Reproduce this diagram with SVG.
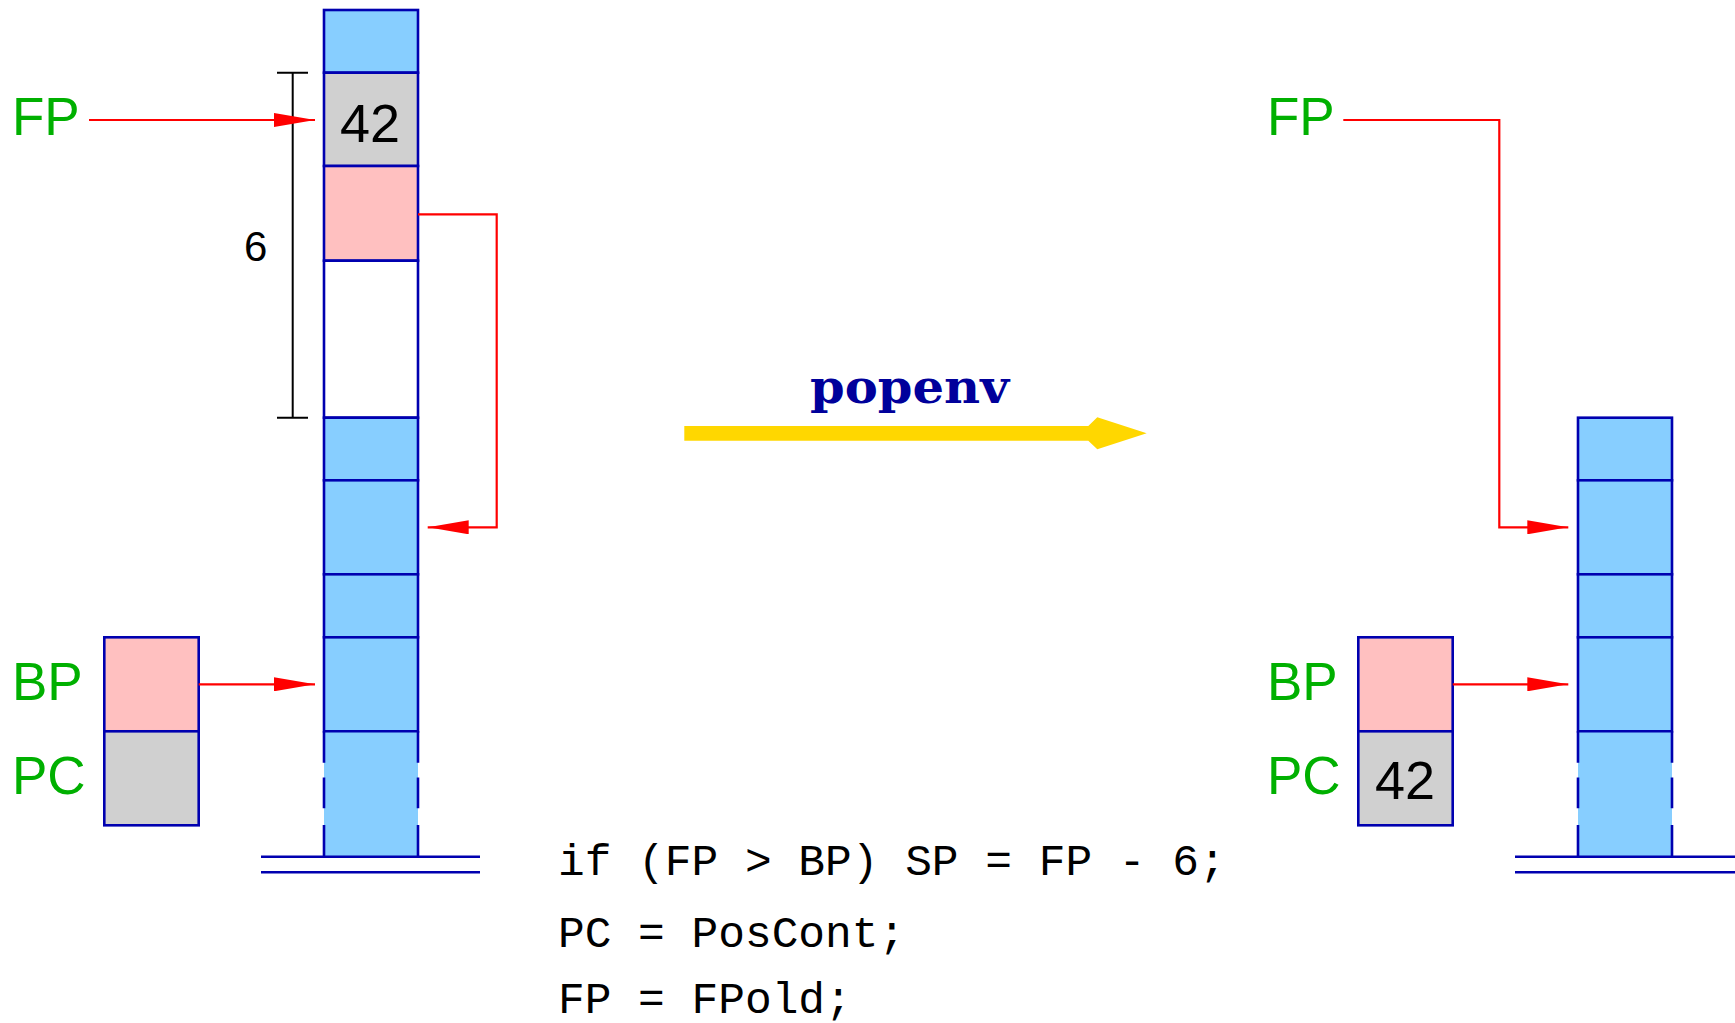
<svg xmlns="http://www.w3.org/2000/svg" width="1735" height="1023" viewBox="0 0 1735 1023">
<defs>
<style>
.cell{stroke:#0000B0;stroke-width:2.6}
.blue{fill:#87CEFF}
.gray{fill:#D0D0D0}
.pink{fill:#FFC0C0}
.white{fill:#FFFFFF}
.side{stroke:#0000B0;stroke-width:2.6;fill:none}
.ground{stroke:#0000B0;stroke-width:2.6;fill:none}
.reg{font-family:"Liberation Sans",Arial,sans-serif;font-size:53px;fill:#00B000}
.num{font-family:"Liberation Sans",Arial,sans-serif;font-size:54px;fill:#000;text-anchor:middle}
.code{font-family:"Liberation Mono","DejaVu Sans Mono",monospace;font-size:44.5px;fill:#000}
.ptr{stroke:#FF0000;stroke-width:2.2;fill:none}
</style>
<marker id="ah" markerWidth="41" markerHeight="14" refX="41" refY="7" orient="auto" markerUnits="userSpaceOnUse">
<path d="M0,0 L41,7 L0,14 z" fill="#FF0000"/>
</marker>
</defs>
<rect width="1735" height="1023" fill="#FFFFFF"/>

<g id="left-stack">
<rect class="cell blue" x="324" y="10" width="94" height="62.7"/>
<rect class="cell gray" x="324" y="72.7" width="94" height="93.3"/>
<text class="num" x="370" y="141.7">42</text>
<rect class="cell pink" x="324" y="166" width="94" height="94.7"/>
<rect class="cell white" x="324" y="260.7" width="94" height="157"/>
<rect class="cell blue" x="324" y="417.7" width="94" height="62.6"/>
<rect class="cell blue" x="324" y="480.3" width="94" height="94"/>
<rect class="cell blue" x="324" y="574.3" width="94" height="63"/>
<rect class="cell blue" x="324" y="637.3" width="94" height="94"/>
<rect class="blue" x="324" y="731.3" width="94" height="125.4"/>
<path class="side" d="M324,731.3 H418 M324,731.3 V762.7 M324,777.5 V808.3 M324,825 V856.7 M418,731.3 V762.7 M418,777.5 V808.3 M418,825 V856.7"/>
<path class="ground" d="M261,856.7 H480 M261,872.3 H480"/>
</g>

<g id="left-bracket">
<path d="M292.7,72.7 V417.7 M277,72.7 H308 M277,417.7 H308" stroke="#000" stroke-width="2" fill="none"/>
<text x="244" y="261" font-family="Liberation Sans, Arial, sans-serif" font-size="42" fill="#000">6</text>
</g>

<g id="left-registers">
<text class="reg" x="12" y="135">FP</text>
<rect class="cell pink" x="104.3" y="637.3" width="94.4" height="94"/>
<rect class="cell gray" x="104.3" y="731.3" width="94.4" height="94"/>
<text class="reg" x="12" y="700">BP</text>
<text class="reg" x="12" y="794">PC</text>
</g>

<g id="transition">
<text x="810" y="403.3" font-family="DejaVu Serif, Liberation Serif, serif" font-weight="bold" font-size="46" fill="#00009B" textLength="199" lengthAdjust="spacingAndGlyphs">popenv</text>
<polygon points="684.3,426 1088.3,426 1097.3,417.3 1146.7,433.3 1097.3,449.3 1088.3,440.7 684.3,440.7" fill="#FFD700"/>
</g>

<g id="code">
<text class="code" x="558" y="875">if (FP &gt; BP) SP = FP - 6;</text>
<text class="code" x="558" y="946.7">PC = PosCont;</text>
<text class="code" x="558" y="1013.3">FP = FPold;</text>
</g>

<g id="right-stack">
<rect class="cell blue" x="1578" y="417.7" width="94" height="62.6"/>
<rect class="cell blue" x="1578" y="480.3" width="94" height="94"/>
<rect class="cell blue" x="1578" y="574.3" width="94" height="63"/>
<rect class="cell blue" x="1578" y="637.3" width="94" height="94"/>
<rect class="blue" x="1578" y="731.3" width="94" height="125.4"/>
<path class="side" d="M1578,731.3 H1672 M1578,731.3 V762.7 M1578,777.5 V808.3 M1578,825 V856.7 M1672,731.3 V762.7 M1672,777.5 V808.3 M1672,825 V856.7"/>
<path class="ground" d="M1515,856.7 H1735 M1515,872.3 H1735"/>
</g>

<g id="right-registers">
<text class="reg" x="1267" y="135">FP</text>
<rect class="cell pink" x="1358.3" y="637.3" width="94.4" height="94"/>
<rect class="cell gray" x="1358.3" y="731.3" width="94.4" height="94"/>
<text class="num" x="1405" y="799.3">42</text>
<text class="reg" x="1267" y="700">BP</text>
<text class="reg" x="1267" y="794">PC</text>
</g>

<g id="connectors">
<path class="ptr" d="M89,120 H315" marker-end="url(#ah)"/>
<path class="ptr" d="M418,214.3 H496.7 V527.3 H427.7" marker-end="url(#ah)"/>
<path class="ptr" d="M198.7,684.3 H315" marker-end="url(#ah)"/>
<path class="ptr" d="M1343.3,120 H1499.3 V527.3 H1568.3" marker-end="url(#ah)"/>
<path class="ptr" d="M1452.7,684.3 H1568.3" marker-end="url(#ah)"/>
</g>
</svg>
